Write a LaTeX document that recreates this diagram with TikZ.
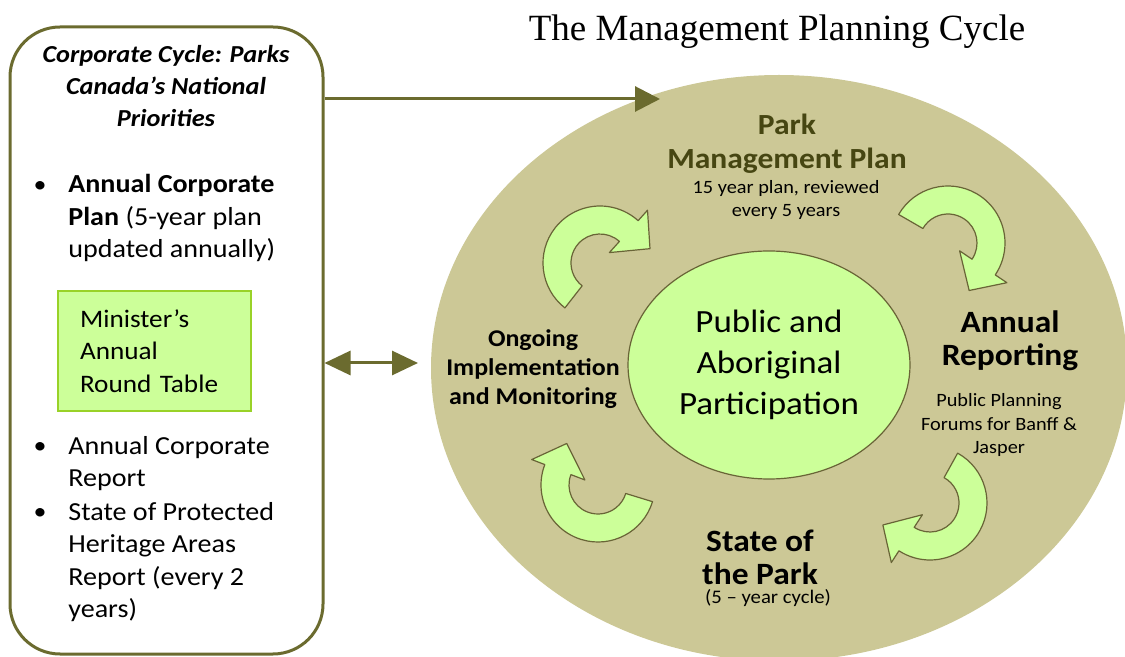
\documentclass[tikz,border=0pt]{standalone}
\usepackage{fontspec}
\setmainfont[FakeStretch=1.08]{Carlito}
\newfontfamily\titlefont{Liberation Serif}
\usetikzlibrary{shapes.geometric,arrows.meta}
\definecolor{olivedraw}{RGB}{107,107,47}
\definecolor{khaki}{RGB}{204,200,150}
\definecolor{paleleaf}{RGB}{204,255,153}
\definecolor{leafedge}{RGB}{153,210,40}
\definecolor{parktext}{RGB}{70,70,18}
\definecolor{arrowedge}{RGB}{105,100,55}

\begin{document}
\begin{tikzpicture}[x=0.5pt,y=-0.5pt,
    corpbox/.style={draw=olivedraw, line width=1.5pt, rounded corners=25pt, minimum width=156.5pt, minimum height=313.5pt, inner sep=0pt},
    item/.style={anchor=west, align=left, inner sep=0pt, font=\fontsize{13}{16.2}\selectfont},
    dot/.style={inner sep=0pt, font=\fontsize{12}{14}\selectfont},
    roundtable/.style={draw=leafedge, fill=paleleaf, line width=0.75pt, minimum height=60pt, text width=74.5pt, inner xsep=11pt, align=left, font=\fontsize{12.6}{16.3}\selectfont},
    linkarrow/.style={draw=olivedraw, line width=1.5pt, -{Triangle[length=12.5pt,width=12.5pt]}},
    swaparrow/.style={draw=olivedraw, line width=1.5pt, {Triangle[length=13pt,width=12pt]}-{Triangle[length=13pt,width=12pt]}},
    cyclearrow/.style={draw=arrowedge, fill=paleleaf, line width=0.6pt, line join=round},
    stage/.style={align=center, inner sep=0pt, font=\bfseries\fontsize{15.5}{16.5}\selectfont},
    note/.style={align=center, inner sep=0pt, font=\fontsize{9.4}{11.7}\selectfont}]
  \useasboundingbox (0,0) rectangle (1125,657);

  % Ellipses
  \node[ellipse, fill=khaki, minimum width=348pt, minimum height=293pt, inner sep=0pt] (cycle) at (779,368) {};
  \node[ellipse, draw=arrowedge, fill=paleleaf, line width=0.6pt, minimum width=141pt, minimum height=114pt, inner sep=0pt, align=center, font=\fontsize{16.2}{20.5}\selectfont] (core) at (769,365) {Public and\\Aboriginal\\Participation};

  % Curved Arrows
  \foreach \cx/\cy/\s [evaluate=\s as \e using \s-184, evaluate=\s as \t using \s-216] in {600/263/232, 948/243/150, 598/485/343, 930/503/61}
    \draw[cyclearrow, shift={(\cx,\cy)}, yscale=-1] (\s:57) arc[start angle=\s, end angle=\e, radius=57] -- (\e:71) -- (\t:52) -- (\e:14) -- (\e:29) arc[start angle=\e, end angle=\s, radius=29] -- cycle;

  % Corporate Box
  \node[corpbox] (corp) at (166.5,340.5) {};
  \node[align=center, inner sep=0pt, font=\bfseries\itshape\fontsize{12.2}{16.2}\selectfont] (corptitle) at (166,86) {Corporate Cycle: Parks\\Canada's National\\Priorities};
  \node[dot] (b1) at (40,187) {\textbullet};
  \node[item] (plan) at (68,218) {\textbf{Annual Corporate}\\\textbf{Plan} (5-year plan\\updated annually)};
  \node[roundtable] (mart) at (154.5,351) {Minister's\\Annual\\Round Table};
  \node[dot] (b2) at (40,448) {\textbullet};
  \node[item] (report) at (68,463.5) {Annual Corporate\\Report};
  \node[dot] (b3) at (40,514) {\textbullet};
  \node[item] (heritage) at (68,562) {State of Protected\\Heritage Areas\\Report (every 2\\years)};

  % Straight Arrows
  \coordinate (plantip) at (660,99);
  \draw[linkarrow] (corp.east |- plantip) -- (plantip);
  \coordinate (linktip) at (418,363);
  \draw[swaparrow] (corp.east |- linktip) -- (linktip);

  % Text Node
  \node[inner sep=0pt, font=\titlefont\fontsize{18.5}{22}\selectfont] (title) at (777,32) {The Management Planning Cycle};
  \node[stage, text=parktext, font=\bfseries\fontsize{14.6}{17}\selectfont] (park) at (787,144) {Park\\Management Plan};
  \node[note] (parknote) at (786,200) {15 year plan, reviewed\\every 5 years};
  \node[stage] (annual) at (1010,341) {Annual\\Reporting};
  \node[note] (annualnote) at (999,425) {Public Planning\\Forums for Banff \&\\Jasper};
  \node[stage] (state) at (760,557) {State of\\the Park};
  \node[note, font=\fontsize{9.6}{11.7}\selectfont] (statenote) at (768,598) {(5 -- year cycle)};
  \node[stage, font=\bfseries\fontsize{12}{14.5}\selectfont] (ongoing) at (533,369) {Ongoing\\Implementation\\and Monitoring};
\end{tikzpicture}
\end{document}
